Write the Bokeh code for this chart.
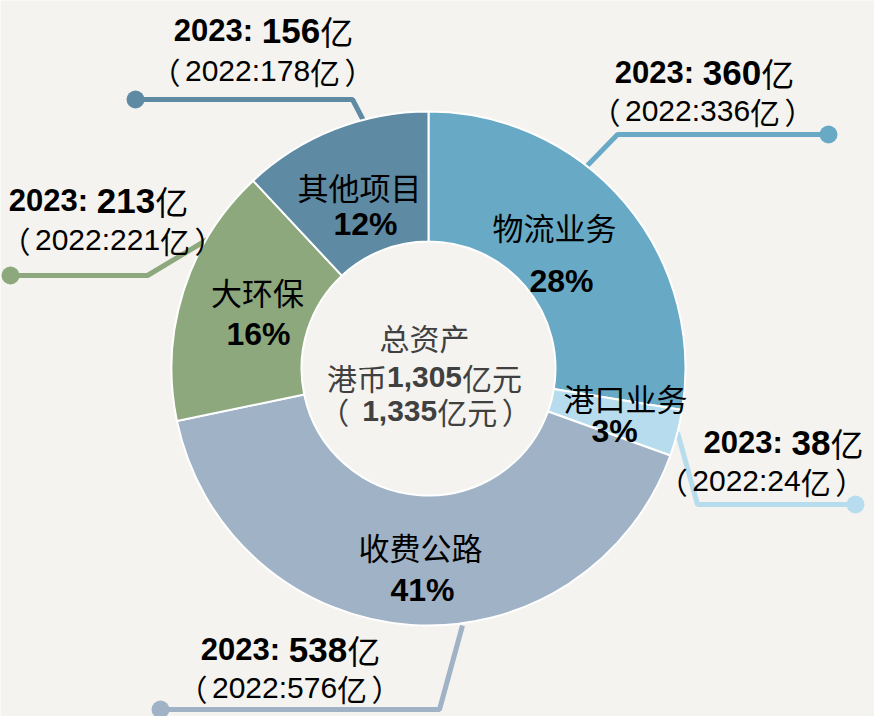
import math
from bokeh.plotting import figure
from bokeh.models import Range1d, ColumnDataSource
from bokeh.embed import file_html
from bokeh.resources import INLINE

# ---------------- data ----------------
categories = ["物流业务", "港口业务", "收费公路", "大环保", "其他项目"]
values_2023 = [360, 38, 538, 213, 156]
values_2022 = [336, 24, 576, 221, 178]
colors = ["#68aac6", "#b7dcee", "#a0b2c5", "#8ca87c", "#5e8aa3"]
center_title = "总资产"

# ---------------- layout (reference pixel coords) ----------------
W, H = 874, 716
OFF = 8
CX, CY = 436, 376          # donut centre
R_OUT, R_IN = 257, 127

def X(px):
    return px - OFF

def Y(py):
    return (H + OFF) - py

# slice label centres: name, percentage
name_pos = {"物流业务": (562, 223), "港口业务": (633, 394), "收费公路": (428, 543),
            "大环保": (265, 288), "其他项目": (367, 183)}
pct_pos = {"物流业务": (569, 277), "港口业务": (622, 427), "收费公路": (430, 586),
           "大环保": (266, 330), "其他项目": (373, 220)}
# outside label: centre x line1, baseline line1, centre x line2, baseline line2
ext_pos = {"物流业务": (712, 80, 710, 118), "港口业务": (791, 450, 769, 488),
           "收费公路": (298, 657, 297, 695), "大环保": (106, 208, 120, 247),
           "其他项目": (271, 38, 270, 78)}
# leader paths
leaders = {"物流业务": [(593, 175), (625, 142), (836, 142)],
           "港口业务": [(685, 440), (705, 512), (863, 512)],
           "收费公路": [(470, 633), (447, 717), (168, 717)],
           "大环保": [(215, 247), (155, 283), (18, 283)],
           "其他项目": [(372, 130), (360, 107), (143, 107)]}

LATIN = "Liberation Sans"
CJK = "Noto Sans CJK SC"


def kind(ch):
    if ch in "（）":
        return "paren"
    return "cjk" if ord(ch) > 0x2E80 else "latin"


def char_w(ch, bold):
    if ch == "（":
        return 1.15
    if ch == "）":
        return 1.15
    if ord(ch) > 0x2E80:
        return 1.0
    if ch.isdigit():
        return 0.556
    if ch == ":":
        return 0.333 if bold else 0.278
    if ch in ", ":
        return 0.278
    if ch == "%":
        return 0.889
    return 0.556


rows = dict(x=[], y=[], text=[], font=[], size=[], style=[], color=[])


def add_line(cx, baseline, segments):
    """segments: list of (text, size, bold, color); ref coords."""
    runs = []
    for text, size, bold, color in segments:
        cur = ""
        cur_k = None
        for ch in text:
            k = kind(ch)
            if cur and (k != cur_k or k == "paren"):
                runs.append((cur, size, bold, color, cur_k))
                cur = ""
            cur += ch
            cur_k = k
        if cur:
            runs.append((cur, size, bold, color, cur_k))
    widths = [sum(char_w(ch, b) for ch in t) * s for t, s, b, c, k in runs]
    x = cx - sum(widths) / 2
    for (t, s, b, c, k), w in zip(runs, widths):
        dx = 0.15 * s if t == "）" else 0.0
        rows["x"].append(X(x + dx))
        rows["y"].append(Y(baseline))
        rows["text"].append(t)
        rows["font"].append(LATIN if k == "latin" else CJK)
        rows["size"].append(f"{s}px")
        rows["style"].append("bold" if b else "normal")
        rows["color"].append(c)
        x += w


def add_centered(cx, cy, segments):
    size = max(s for _, s, _, _ in segments)
    add_line(cx, cy + 0.37 * size, segments)


# ---------------- figure ----------------
p = figure(width=W, height=H, output_backend="svg", toolbar_location=None,
           x_range=Range1d(0, W), y_range=Range1d(0, H), min_border=0,
           background_fill_color="#f4f3ef", border_fill_color="#f4f3ef")
p.axis.visible = False
p.grid.visible = False
p.outline_line_color = None

total = sum(values_2023)
total_prev = sum(values_2022)

# leader lines (behind donut)
for cat, col in zip(categories, colors):
    pts = leaders[cat]
    p.line([X(a) for a, b in pts], [Y(b) for a, b in pts], line_color=col, line_width=5)
    ex, ey = pts[-1]
    p.scatter([X(ex)], [Y(ey)], size=18, fill_color=col, line_color=None)

# donut
starts, ends = [], []
cum = 0
for v in values_2023:
    starts.append(math.pi / 2 - cum / total * 2 * math.pi)
    cum += v
    ends.append(math.pi / 2 - cum / total * 2 * math.pi)
src = ColumnDataSource(dict(start=starts, end=ends, color=colors, cat=categories))
p.annular_wedge(x=X(CX), y=Y(CY), inner_radius=R_IN, outer_radius=R_OUT,
                start_angle="start", end_angle="end", direction="clock",
                fill_color="color", line_color="white", line_width=2, source=src)

# slice labels
for cat, v in zip(categories, values_2023):
    nx, ny = name_pos[cat]
    add_centered(nx, ny, [(cat, 31, False, "#000000")])
    px_, py_ = pct_pos[cat]
    add_centered(px_, py_, [(f"{round(v / total * 100)}%", 32, True, "#000000")])

# outer labels
for cat, v, v0 in zip(categories, values_2023, values_2022):
    c1, b1, c2, b2 = ext_pos[cat]
    add_line(c1, b1, [("2023: ", 31, True, "#000000"), (f"{v}", 35, True, "#000000"),
                      ("亿", 33, False, "#000000")])
    add_line(c2, b2, [(f"（2022:{v0}亿）", 30, False, "#000000")])

# centre text
grey = "#404040"
add_centered(432, 333, [(center_title, 30, False, grey)])
add_centered(432, 373, [("港币", 30, False, grey), (f"{total:,}", 30, True, grey),
                        ("亿元", 30, False, grey)])
add_centered(433, 407, [("（ ", 30, False, grey), (f"{total_prev:,}", 30, True, grey),
                        ("亿元）", 30, False, grey)])

tsrc = ColumnDataSource(rows)
p.text(x="x", y="y", text="text", text_font="font", text_font_size="size",
       text_font_style="style", text_color="color", text_align="left",
       text_baseline="alphabetic", source=tsrc)

open("out.html", "w").write(file_html(p, INLINE))
